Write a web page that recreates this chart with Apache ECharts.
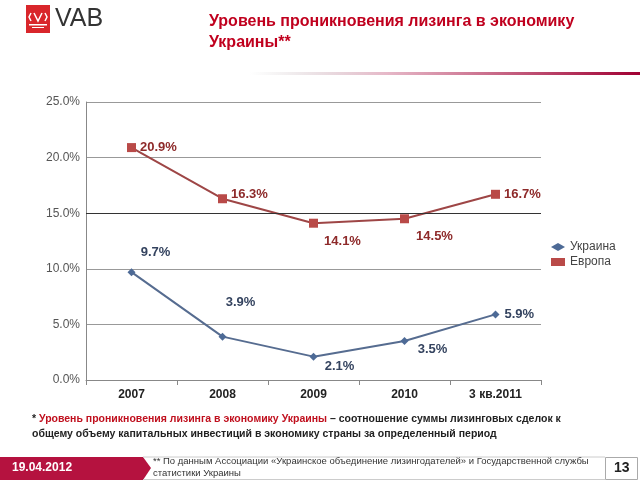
<!DOCTYPE html>
<html><head><meta charset="utf-8">
<script src="https://cdn.jsdelivr.net/npm/echarts@6/dist/echarts.min.js"></script>
<style>html,body{margin:0;padding:0;background:#fff}#c{width:640px;height:480px}</style>
</head><body><div id="c"></div>
<script>
var categories = ['2007', '2008', '2009', '2010', '3 кв.2011'];
var ukraine = [9.7, 3.9, 2.1, 3.5, 5.9];
var europe = [20.9, 16.3, 14.1, 14.5, 16.7];
var seriesNames = ['Украина', 'Европа'];
// label offsets per point (layout only)
var ukOffsets = [[24, -20], [18, -34], [26, 10], [28, 8], [0, 0]];
var ukPos = ['inside', 'inside', 'inside', 'inside', 'right'];
var euOffsets = [[0, 0], [0, -4], [29, 18], [30, 18], [0, 0]];
var euPos = ['right', 'right', 'inside', 'inside', 'right'];

var chart = echarts.init(document.getElementById('c'), null, {renderer: 'canvas'});
var F = 'Arial, "Liberation Sans", sans-serif';

function mk(vals, pos, offs, color) {
  return vals.map(function (v, i) {
    return {value: v, label: {position: pos[i], offset: offs[i], color: color}};
  });
}

var option = {
  animation: false,
  backgroundColor: '#fff',
  grid: {left: 86, right: 99, top: 102, bottom: 100},
  legend: {
    orient: 'vertical', left: 546, top: 236, itemGap: 3, itemWidth: 14, itemHeight: 8,
    textStyle: {fontFamily: F, fontSize: 12, color: '#444'},
    data: [{name: seriesNames[0], icon: 'diamond'}, {name: seriesNames[1], icon: 'rect'}]
  },
  xAxis: {
    type: 'category', data: categories, boundaryGap: true,
    axisLine: {lineStyle: {color: '#888', width: 1}},
    axisTick: {show: true, length: 5, lineStyle: {color: '#888'}},
    axisLabel: {fontFamily: F, fontSize: 12, fontWeight: 'bold', color: '#222', margin: 9}
  },
  yAxis: {
    type: 'value', min: 0, max: 25, interval: 5,
    axisLine: {show: true, lineStyle: {color: '#888'}},
    axisTick: {show: false},
    axisLabel: {fontFamily: F, fontSize: 12, color: '#555', margin: 6,
      formatter: function (v) { return v.toFixed(1) + '%'; }},
    splitLine: {lineStyle: {color: '#999', width: 1}}
  },
  series: [
    {
      name: seriesNames[0], type: 'line', data: mk(ukraine, ukPos, ukOffsets, '#34435f'),
      symbol: 'diamond', symbolSize: 8,
      itemStyle: {color: '#4d6a96'}, lineStyle: {color: '#566c90', width: 2},
      label: {show: true, fontFamily: F, fontSize: 13, fontWeight: 'bold',
        formatter: function (p) { return p.value.toFixed(1) + '%'; }}
    },
    {
      name: seriesNames[1], type: 'line', data: mk(europe, euPos, euOffsets, '#8e2a2a'),
      symbol: 'rect', symbolSize: 9,
      itemStyle: {color: '#b94a48'}, lineStyle: {color: '#9e4646', width: 2},
      label: {show: true, fontFamily: F, fontSize: 13, fontWeight: 'bold', distance: 4,
        formatter: function (p) { return p.value.toFixed(1) + '%'; }},
      markLine: {silent: true, symbol: 'none', label: {show: false},
        lineStyle: {color: '#333', type: 'solid', width: 1}, data: [{yAxis: 15}]}
    }
  ],
  graphic: [
    // logo
    {type: 'rect', left: 26, top: 5, shape: {width: 24, height: 28}, style: {fill: '#d9262b'}},
    {type: 'polyline', shape: {points: [[31, 13], [29, 17], [31, 21]]}, style: {stroke: '#fff', lineWidth: 1.5, fill: null}},
    {type: 'polyline', shape: {points: [[34, 13], [38, 21], [42, 13]]}, style: {stroke: '#fff', lineWidth: 1.5, fill: null}},
    {type: 'polyline', shape: {points: [[45, 13], [47, 17], [45, 21]]}, style: {stroke: '#fff', lineWidth: 1.5, fill: null}},
    {type: 'rect', left: 29, top: 24, shape: {width: 18, height: 1.5}, style: {fill: '#fff'}},
    {type: 'rect', left: 32, top: 27, shape: {width: 12, height: 1}, style: {fill: '#fff'}},
    {type: 'text', left: 55, top: 7, style: {text: 'VAB', fill: '#333', font: '25px ' + F}},
    // title
    {type: 'text', left: 209, top: 11, style: {text: 'Уровень проникновения лизинга в экономику\nУкраины**',
      fill: '#c0001e', font: 'bold 16px ' + F, lineHeight: 21}},
    // gradient rule
    {type: 'rect', left: 250, top: 72, shape: {width: 390, height: 3},
      style: {fill: new echarts.graphic.LinearGradient(0, 0, 1, 0, [
        {offset: 0, color: 'rgba(200,200,200,0)'}, {offset: 0.35, color: '#e6b8c8'}, {offset: 1, color: '#a00032'}])}},
    // footnote
    {type: 'text', left: 32, top: 412, style: {
      text: '{s|* }{r|Уровень проникновения лизинга в экономику Украины}{b| – соотношение суммы лизинговых сделок к}\n{b|общему объему капитальных инвестиций в экономику страны за определенный период}',
      rich: {
        s: {fill: '#222', font: 'bold 10.5px ' + F},
        r: {fill: '#c0101e', font: 'bold 10.5px ' + F},
        b: {fill: '#222', font: 'bold 10.5px ' + F}
      }, lineHeight: 15}},
    // bottom bar
    {type: 'polygon', shape: {points: [[0, 457], [143, 457], [151, 468], [143, 480], [0, 480]]},
      style: {fill: '#b5123f'}},
    {type: 'polyline', shape: {points: [[143, 457], [605, 457]]}, style: {stroke: '#ccc', lineWidth: 1}},
    {type: 'polyline', shape: {points: [[143, 479.5], [605, 479.5]]}, style: {stroke: '#ccc', lineWidth: 1}},
    {type: 'text', left: 12, top: 462, style: {text: '19.04.2012', fill: '#fff', font: 'bold 12px ' + F}},
    {type: 'text', left: 153, top: 455, style: {
      text: '** По данным Ассоциации «Украинское объединение лизингодателей» и Государственной службы\nстатистики Украины',
      fill: '#333', font: '9.5px ' + F, lineHeight: 12}},
    {type: 'rect', left: 605, top: 457, shape: {width: 32, height: 22},
      style: {fill: '#fff', stroke: '#aaa', lineWidth: 1}},
    {type: 'text', left: 614, top: 461, style: {text: '13', fill: '#222', font: 'bold 14px ' + F}}
  ]
};
chart.setOption(option);
</script></body></html>
